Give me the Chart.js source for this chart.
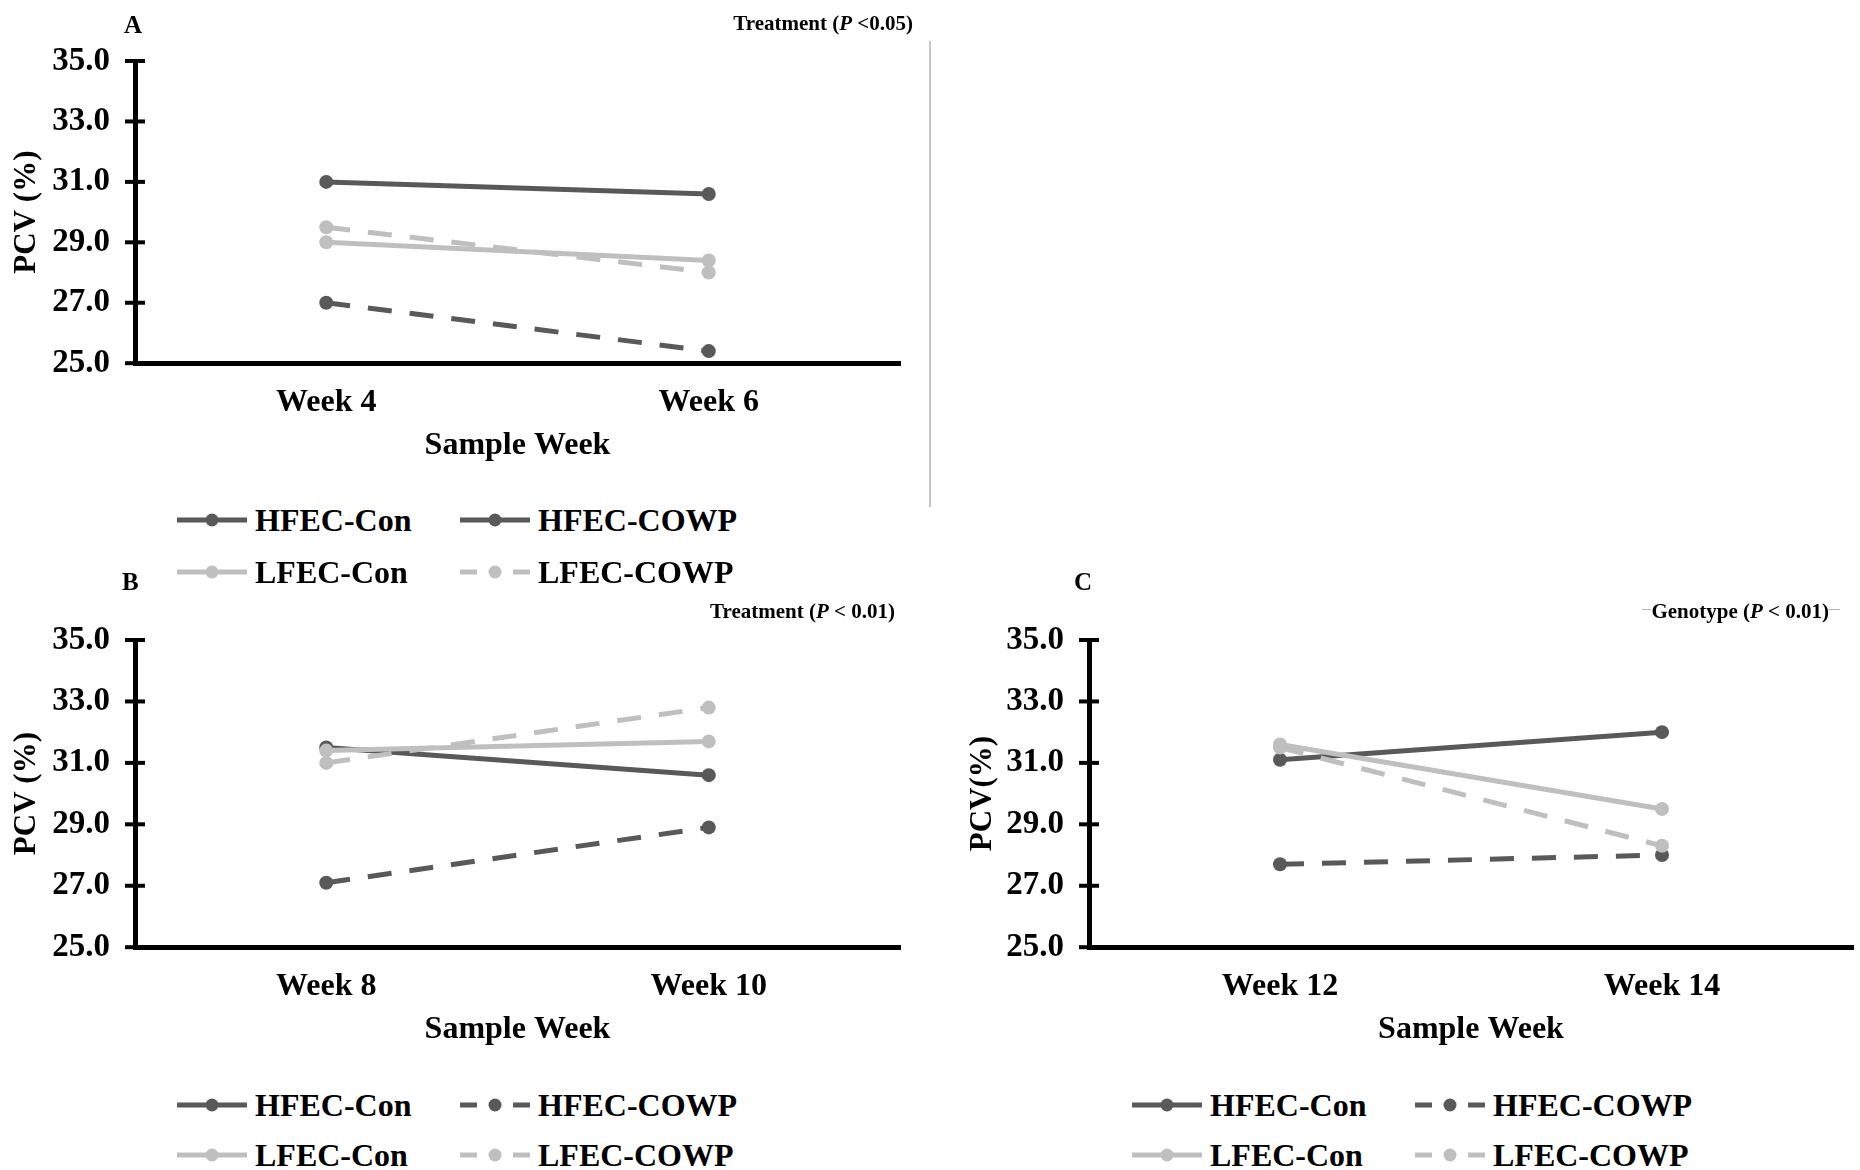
<!DOCTYPE html>
<html>
<head>
<meta charset="utf-8">
<script src="https://cdn.jsdelivr.net/npm/chart.js@4.4.0/dist/chart.umd.min.js"></script>
<style>
  html, body { margin: 0; padding: 0; background: #fff; }
  body { width: 1860px; height: 1170px; position: relative; overflow: hidden;
         font-family: 'Times New Roman', 'Liberation Serif', serif; font-weight: bold; color: #000; }
  canvas.panel { position: absolute; }
  .lbl { position: absolute; font-size: 25px; line-height: 1; }
  .note { position: absolute; font-size: 21px; line-height: 1; white-space: nowrap; background: #fff; }
  .legend-item { position: absolute; display: flex; align-items: center; height: 36px;
                 font-size: 32px; line-height: 1; white-space: nowrap; }
  .sep { position: absolute; background: #c4c4c4; }
</style>
</head>
<body>
<canvas id="chartA" class="panel" width="930" height="465" style="left:0;top:0"></canvas>
<canvas id="chartB" class="panel" width="930" height="469" style="left:0;top:580px"></canvas>
<canvas id="chartC" class="panel" width="930" height="469" style="left:930px;top:580px"></canvas>

<div class="sep" style="left:929px;top:41px;width:2px;height:466px"></div>
<div class="sep" style="left:1642px;top:609px;width:198px;height:1px;background:#b0b0b0"></div>

<div class="lbl" style="left:124px;top:12px">A</div>
<div class="lbl" style="left:122px;top:569px">B</div>
<div class="lbl" style="left:1074px;top:569px">C</div>
<div class="note" style="right:947px;top:13px">Treatment (<i>P</i> &lt;0.05)</div>
<div class="note" style="right:965px;top:601px">Treatment (<i>P</i> &lt; 0.01)</div>
<div class="note" style="right:31px;top:601px">Genotype (<i>P</i> &lt; 0.01)</div>

<script>
// sample weeks per panel
const weeksA = ['Week 4', 'Week 6'];
const weeksB = ['Week 8', 'Week 10'];
const weeksC = ['Week 12', 'Week 14'];
const groupNames = ['HFEC-Con', 'HFEC-COWP', 'LFEC-Con', 'LFEC-COWP'];

// PCV (%)
const hfecConA = [31.0, 30.6];
const hfecCowpA = [27.0, 25.4];
const lfecConA = [29.0, 28.4];
const lfecCowpA = [29.5, 28.0];

const hfecConB = [31.5, 30.6];
const hfecCowpB = [27.1, 28.9];
const lfecConB = [31.4, 31.7];
const lfecCowpB = [31.0, 32.8];

const hfecConC = [31.1, 32.0];
const hfecCowpC = [27.7, 28.0];
const lfecConC = [31.6, 29.5];
const lfecCowpC = [31.5, 28.3];

const yTicks = ['25.0', '27.0', '29.0', '31.0', '33.0', '35.0'];

const FONT = "'Times New Roman', 'Liberation Serif', serif";
const darkGray = '#595959';
const lightGray = '#bfbfbf';
const dashPattern = [24, 18];
const seriesStyles = [
    { color: darkGray, dashed: false },
    { color: darkGray, dashed: true },
    { color: lightGray, dashed: false },
    { color: lightGray, dashed: true }
];

// Excel style "cross" tick marks on the value axis
const crossTicks = {
    id: 'crossTicks',
    afterDraw(chart) {
        const y = chart.scales.y;
        const ctx = chart.ctx;
        const x0 = chart.chartArea.left;
        ctx.save();
        ctx.strokeStyle = '#000';
        ctx.lineWidth = 4;
        y.ticks.forEach(t => {
            const py = y.getPixelForValue(t.value);
            ctx.beginPath();
            ctx.moveTo(x0 - 10, py);
            ctx.lineTo(x0 + 10, py);
            ctx.stroke();
        });
        ctx.restore();
    }
};

function makeChart(canvasId, labels, values, cfg) {
    const ctx = document.getElementById(canvasId).getContext('2d');
    return new Chart(ctx, {
        type: 'line',
        data: {
            labels: labels,
            datasets: values.map((data, i) => ({
                label: groupNames[i],
                data: data,
                borderColor: seriesStyles[i].color,
                backgroundColor: seriesStyles[i].color,
                pointBackgroundColor: seriesStyles[i].color,
                pointBorderWidth: 0,
                pointRadius: 7,
                borderWidth: 5,
                borderDash: seriesStyles[i].dashed ? dashPattern : [],
                fill: false,
                tension: 0,
                order: values.length - i // later series on top, like Excel
            }))
        },
        options: {
            responsive: false,
            animation: false,
            devicePixelRatio: 1,
            layout: { padding: { top: cfg.padTop, right: cfg.padRight, bottom: 0, left: 0 } },
            scales: {
                x: {
                    offset: true,
                    grid: { drawOnChartArea: false, drawTicks: false },
                    border: { color: '#000', width: 5 },
                    ticks: { color: '#000', padding: 20, font: { family: FONT, size: 32, weight: 'bold' } },
                    title: {
                        display: true, text: 'Sample Week', color: '#000',
                        padding: { top: -15, bottom: 0 },
                        font: { family: FONT, size: 32, weight: 'bold' }
                    }
                },
                y: {
                    min: 25,
                    max: 35,
                    afterBuildTicks: s => { s.ticks = yTicks.map(t => ({ value: parseFloat(t) })); },
                    afterFit: s => { s.width = cfg.axisWidth; },
                    grid: { drawOnChartArea: false, drawTicks: false },
                    border: { color: '#000', width: 5 },
                    ticks: {
                        color: '#000', padding: 25,
                        font: { family: FONT, size: 33, weight: 'bold' },
                        callback: v => Number(v).toFixed(1)
                    },
                    title: {
                        display: true, text: cfg.yTitle, color: '#000',
                        padding: { top: cfg.yTitlePad, bottom: 0 },
                        font: { family: FONT, size: 31, weight: 'bold' }
                    }
                }
            },
            plugins: { legend: { display: false }, tooltip: { enabled: false } }
        },
        plugins: [crossTicks]
    });
}

function buildLegend(chart, colX, rowY, solidInLegend) {
    chart.data.datasets.forEach((ds, i) => {
        const item = document.createElement('div');
        item.className = 'legend-item';
        item.style.left = colX[i % 2] + 'px';
        item.style.top = (rowY[Math.floor(i / 2)] - 18) + 'px';

        const c = document.createElement('canvas');
        c.width = 70;
        c.height = 16;
        const g = c.getContext('2d');
        const dashed = ds.borderDash.length > 0 && !solidInLegend.includes(i);
        g.strokeStyle = ds.borderColor;
        g.lineWidth = 5;
        if (dashed) g.setLineDash([17, 36]);
        g.beginPath();
        g.moveTo(0, 8);
        g.lineTo(70, 8);
        g.stroke();
        g.fillStyle = ds.borderColor;
        g.beginPath();
        g.arc(35, 8, 6.5, 0, Math.PI * 2);
        g.fill();
        item.appendChild(c);

        const span = document.createElement('span');
        span.textContent = ds.label;
        span.style.marginLeft = '8px';
        item.appendChild(span);
        document.body.appendChild(item);
    });
}

const chartA = makeChart('chartA', weeksA, [hfecConA, hfecCowpA, lfecConA, lfecCowpA],
    { axisWidth: 135, padTop: 61, padRight: 30, yTitle: 'PCV (%)', yTitlePad: 8 });
const chartB = makeChart('chartB', weeksB, [hfecConB, hfecCowpB, lfecConB, lfecCowpB],
    { axisWidth: 135, padTop: 60, padRight: 30, yTitle: 'PCV (%)', yTitlePad: 8 });
const chartC = makeChart('chartC', weeksC, [hfecConC, hfecCowpC, lfecConC, lfecCowpC],
    { axisWidth: 159, padTop: 60, padRight: 5, yTitle: 'PCV(%)', yTitlePad: 34 });

// panel A legend shows HFEC-COWP with a solid sample in the original
buildLegend(chartA, [177, 460], [520, 572], [1]);
buildLegend(chartB, [177, 460], [1105, 1155], []);
buildLegend(chartC, [1132, 1415], [1105, 1155], []);
</script>
</body>
</html>
